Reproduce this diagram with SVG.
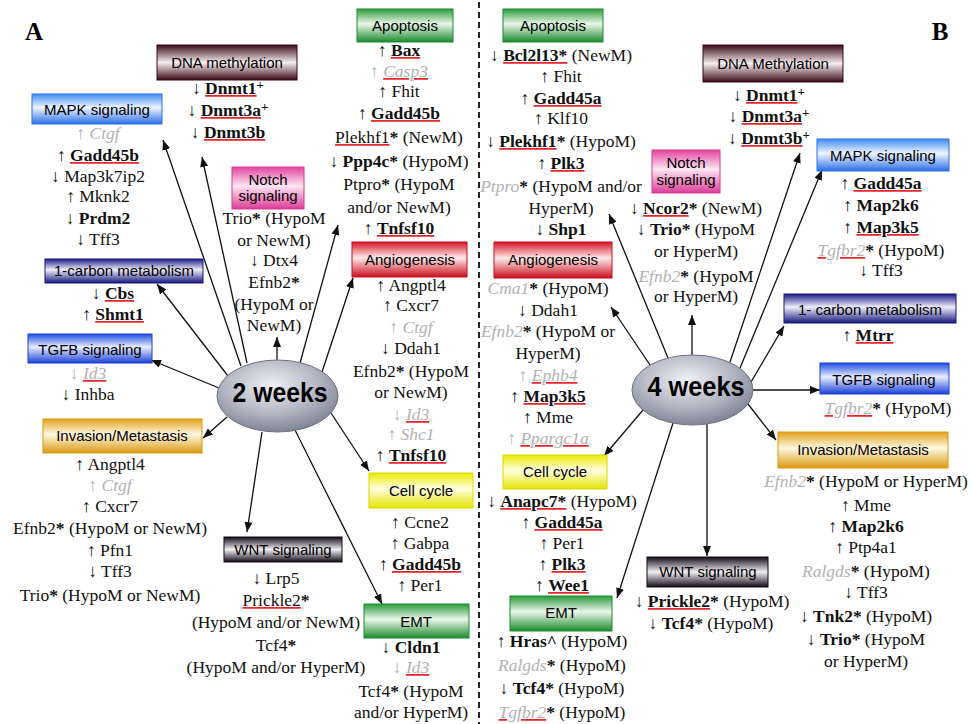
<svg xmlns="http://www.w3.org/2000/svg" width="971" height="724" viewBox="0 0 971 724">
<defs>
<style>
.lbl{font-family:"Liberation Sans",Arial,sans-serif;font-size:15px;text-anchor:middle;fill:#000}
.t{font-family:"Liberation Serif","DejaVu Serif","Times New Roman",serif;font-size:17.5px;text-anchor:middle;fill:#111}
.b{font-weight:bold}
.g{fill:#b2b2b2}
.i{font-style:italic}
.k{fill:#111}
.u{text-decoration:underline;text-decoration-color:#e3262b;fill:#e3262b;text-decoration-thickness:2px;text-underline-offset:3px}
.sp{font-size:13px;font-weight:bold}
.wk{font-family:"Liberation Sans",Arial,sans-serif;font-weight:bold;font-size:28px;text-anchor:middle;fill:#000}
.pl{font-family:"Liberation Serif","Times New Roman",serif;font-weight:bold;font-size:25px;text-anchor:middle;fill:#000}
.conn line{stroke:#111;stroke-width:1.3;marker-end:url(#ah)}
.bx{stroke-width:1}
</style>
<marker id="ah" viewBox="0 0 10 8" refX="10" refY="4" markerWidth="10" markerHeight="8" markerUnits="userSpaceOnUse" orient="auto"><path d="M0,0 L10,4 L0,8 z" fill="#111"/></marker>
<linearGradient id="gMar" x1="0" y1="0" x2="0" y2="1"><stop offset="0" stop-color="#3a0816"/><stop offset="0.5" stop-color="#f6eef0"/><stop offset="1" stop-color="#3a0816"/></linearGradient>
<linearGradient id="gBlueL" x1="0" y1="0" x2="0" y2="1"><stop offset="0" stop-color="#3f8cf2"/><stop offset="0.45" stop-color="#eef5ff"/><stop offset="1" stop-color="#2a6fe6"/></linearGradient>
<linearGradient id="gBlue" x1="0" y1="0" x2="0" y2="1"><stop offset="0" stop-color="#1d4ee0"/><stop offset="0.45" stop-color="#e8eeff"/><stop offset="1" stop-color="#1a3fd6"/></linearGradient>
<linearGradient id="gNavy" x1="0" y1="0" x2="0" y2="1"><stop offset="0" stop-color="#1c1c86"/><stop offset="0.45" stop-color="#eeeefa"/><stop offset="1" stop-color="#16167c"/></linearGradient>
<linearGradient id="gGreen" x1="0" y1="0" x2="0" y2="1"><stop offset="0" stop-color="#2a9a3c"/><stop offset="0.45" stop-color="#eaf7ea"/><stop offset="1" stop-color="#1c8a2e"/></linearGradient>
<linearGradient id="gPink" x1="0" y1="0" x2="0" y2="1"><stop offset="0" stop-color="#e2449e"/><stop offset="0.45" stop-color="#fde6f2"/><stop offset="1" stop-color="#dc3c98"/></linearGradient>
<linearGradient id="gRed" x1="0" y1="0" x2="0" y2="1"><stop offset="0" stop-color="#d21626"/><stop offset="0.45" stop-color="#ffeaea"/><stop offset="1" stop-color="#c80f1e"/></linearGradient>
<linearGradient id="gYel" x1="0" y1="0" x2="0" y2="1"><stop offset="0" stop-color="#eaea00"/><stop offset="0.45" stop-color="#ffffe2"/><stop offset="1" stop-color="#e4e400"/></linearGradient>
<linearGradient id="gGold" x1="0" y1="0" x2="0" y2="1"><stop offset="0" stop-color="#e2a21c"/><stop offset="0.45" stop-color="#fff8e2"/><stop offset="1" stop-color="#d89a10"/></linearGradient>
<linearGradient id="gBlk" x1="0" y1="0" x2="0" y2="1"><stop offset="0" stop-color="#120a16"/><stop offset="0.5" stop-color="#f2f0f4"/><stop offset="1" stop-color="#120a16"/></linearGradient>
<radialGradient id="gEll" cx="0.45" cy="0.35" r="0.7"><stop offset="0" stop-color="#eff1f6"/><stop offset="0.55" stop-color="#b3b7c4"/><stop offset="1" stop-color="#767b8c"/></radialGradient>
</defs>
<rect width="971" height="724" fill="#fff"/>
<line x1="479" y1="2" x2="479" y2="724" stroke="#222" stroke-width="2" stroke-dasharray="6 4"/>
<text class="pl" x="34" y="40">A</text>
<text class="pl" x="940" y="40">B</text>

<g class="conn" id="connectors">
<line x1="241" y1="366" x2="163" y2="140"/>
<line x1="247" y1="363" x2="202" y2="157"/>
<line x1="277" y1="360" x2="277" y2="337"/>
<line x1="300" y1="363" x2="338" y2="225"/>
<line x1="322" y1="372" x2="353" y2="278"/>
<line x1="228" y1="376" x2="157" y2="284"/>
<line x1="219" y1="388" x2="151" y2="360"/>
<line x1="227" y1="417" x2="203" y2="438"/>
<line x1="331" y1="413" x2="369" y2="471"/>
<line x1="262" y1="432" x2="247" y2="532"/>
<line x1="295" y1="430" x2="382" y2="604"/>
<line x1="668" y1="358" x2="609" y2="214"/>
<line x1="650" y1="365" x2="611" y2="307"/>
<line x1="692" y1="355" x2="692" y2="315"/>
<line x1="730" y1="362" x2="800" y2="153"/>
<line x1="740" y1="368" x2="822" y2="170"/>
<line x1="751" y1="382" x2="784" y2="326"/>
<line x1="753" y1="390" x2="820" y2="390"/>
<line x1="748" y1="404" x2="776" y2="440"/>
<line x1="643" y1="410" x2="604" y2="456"/>
<line x1="673" y1="423" x2="617" y2="598"/>
<line x1="707" y1="424" x2="707" y2="556"/>
</g>

<g id="hub-2weeks">
<ellipse cx="277.5" cy="396" rx="60.5" ry="36" fill="url(#gEll)" stroke="#6c7080" stroke-width="1"/>
<text class="wk" x="280" y="402" textLength="95" lengthAdjust="spacingAndGlyphs">2 weeks</text>
</g>
<g id="hub-4weeks">
<ellipse cx="692.5" cy="390" rx="60.5" ry="35" fill="url(#gEll)" stroke="#6c7080" stroke-width="1"/>
<text class="wk" x="696" y="396" textLength="97" lengthAdjust="spacingAndGlyphs">4 weeks</text>
</g>

<!-- LEFT PANEL -->
<g id="A-dna-methylation">
<rect class="bx" x="157" y="45" width="140" height="35" fill="url(#gMar)" stroke="#3a0816"/>
<text class="lbl" x="227" y="68">DNA methylation</text>
<text class="t" x="228" y="94">↓ <tspan class="u"><tspan class="k b">Dnmt1</tspan></tspan><tspan class="sp" dy="-5">+</tspan></text>
<text class="t" x="228" y="116">↓ <tspan class="u"><tspan class="k b">Dnmt3a</tspan></tspan><tspan class="sp" dy="-5">+</tspan></text>
<text class="t" x="228" y="138">↓ <tspan class="u"><tspan class="k b">Dnmt3b</tspan></tspan></text>
</g>
<g id="A-mapk">
<rect class="bx" x="32" y="94" width="130" height="30" fill="url(#gBlueL)" stroke="#2f72e6"/>
<text class="lbl" x="97" y="115">MAPK signaling</text>
<text class="t" x="98" y="139"><tspan class="g">↑ <tspan class="i">Ctgf</tspan></tspan></text>
<text class="t" x="98" y="161">↑ <tspan class="u"><tspan class="k b">Gadd45b</tspan></tspan></text>
<text class="t" x="98" y="182">↓ Map3k7ip2</text>
<text class="t" x="98" y="202">↑ Mknk2</text>
<text class="t" x="98" y="224">↓ <tspan class="b">Prdm2</tspan></text>
<text class="t" x="98" y="245">↓ Tff3</text>
</g>
<g id="A-apoptosis">
<rect class="bx" x="357" y="9" width="96" height="33" fill="url(#gGreen)" stroke="#1c8a2e"/>
<text class="lbl" x="405" y="31">Apoptosis</text>
<text class="t" x="399" y="56">↑ <tspan class="u"><tspan class="k b">Bax</tspan></tspan></text>
<text class="t" x="399" y="77"><tspan class="g">↑ </tspan><tspan class="u"><tspan class="g i">Casp3</tspan></tspan></text>
<text class="t" x="399" y="97">↑ Fhit</text>
<text class="t" x="399" y="119">↑ <tspan class="u"><tspan class="k b">Gadd45b</tspan></tspan></text>
<text class="t" x="399" y="143"><tspan class="u"><tspan class="k">Plekhf1</tspan></tspan><tspan class="b">*</tspan> (NewM)</text>
<text class="t" x="399" y="167">↓ <tspan class="b">Ppp4c*</tspan> (HypoM)</text>
<text class="t" x="399" y="190">Ptpro<tspan class="b">*</tspan> (HypoM</text>
<text class="t" x="399" y="213">and/or NewM)</text>
<text class="t" x="399" y="234">↑ <tspan class="u"><tspan class="k b">Tnfsf10</tspan></tspan></text>
</g>
<g id="A-notch">
<rect class="bx" x="232" y="167" width="72" height="42" fill="url(#gPink)" stroke="#d83c96"/>
<text class="lbl" x="268" y="185">Notch</text>
<text class="lbl" x="268" y="201">signaling</text>
<text class="t" x="274" y="224">Trio<tspan class="b">*</tspan> (HypoM</text>
<text class="t" x="274" y="246">or NewM)</text>
<text class="t" x="274" y="266">↓ Dtx4</text>
<text class="t" x="274" y="288">Efnb2<tspan class="b">*</tspan></text>
<text class="t" x="274" y="310">(HypoM or</text>
<text class="t" x="274" y="331">NewM)</text>
</g>
<g id="A-one-carbon">
<rect class="bx" x="45" y="259" width="158" height="24" fill="url(#gNavy)" stroke="#16167c"/>
<text class="lbl" x="124" y="276">1-carbon metabolism</text>
<text class="t" x="113" y="299">↓ <tspan class="u"><tspan class="k b">Cbs</tspan></tspan></text>
<text class="t" x="113" y="320">↑ <tspan class="u"><tspan class="k b">Shmt1</tspan></tspan></text>
</g>
<g id="A-tgfb">
<rect class="bx" x="28" y="334" width="124" height="29" fill="url(#gBlue)" stroke="#1a3fd6"/>
<text class="lbl" x="90" y="355">TGFB signaling</text>
<text class="t" x="88" y="379"><tspan class="g">↓ </tspan><tspan class="u"><tspan class="g i">Id3</tspan></tspan></text>
<text class="t" x="88" y="400">↓ Inhba</text>
</g>
<g id="A-invasion">
<rect class="bx" x="43" y="419" width="159" height="34" fill="url(#gGold)" stroke="#d89a10"/>
<text class="lbl" x="122" y="441">Invasion/Metastasis</text>
<text class="t" x="110" y="470">↑ Angptl4</text>
<text class="t" x="110" y="491"><tspan class="g">↑ <tspan class="i">Ctgf</tspan></tspan></text>
<text class="t" x="110" y="512">↑ Cxcr7</text>
<text class="t" x="110" y="534">Efnb2<tspan class="b">*</tspan> (HypoM or NewM)</text>
<text class="t" x="110" y="556">↑ Pfn1</text>
<text class="t" x="110" y="577">↓ Tff3</text>
<text class="t" x="110" y="601">Trio<tspan class="b">*</tspan> (HypoM or NewM)</text>
</g>
<g id="A-angiogenesis">
<rect class="bx" x="352" y="242" width="115" height="35" fill="url(#gRed)" stroke="#c80f1e"/>
<text class="lbl" x="410" y="265">Angiogenesis</text>
<text class="t" x="411" y="291">↑ Angptl4</text>
<text class="t" x="411" y="311">↑ Cxcr7</text>
<text class="t" x="411" y="333"><tspan class="g">↑ <tspan class="i">Ctgf</tspan></tspan></text>
<text class="t" x="411" y="354">↓ Ddah1</text>
<text class="t" x="411" y="377">Efnb2<tspan class="b">*</tspan> (HypoM</text>
<text class="t" x="411" y="398">or NewM)</text>
<text class="t" x="411" y="420"><tspan class="g">↓ </tspan><tspan class="u"><tspan class="g i">Id3</tspan></tspan></text>
<text class="t" x="411" y="440"><tspan class="g">↑ <tspan class="i">Shc1</tspan></tspan></text>
<text class="t" x="411" y="461">↑ <tspan class="u"><tspan class="k b">Tnfsf10</tspan></tspan></text>
</g>
<g id="A-cell-cycle">
<rect class="bx" x="369" y="473" width="104" height="35" fill="url(#gYel)" stroke="#d8d800"/>
<text class="lbl" x="421" y="496">Cell cycle</text>
<text class="t" x="420" y="528">↑ Ccne2</text>
<text class="t" x="420" y="549">↑ Gabpa</text>
<text class="t" x="420" y="570">↑ <tspan class="u"><tspan class="k b">Gadd45b</tspan></tspan></text>
<text class="t" x="420" y="591">↑ Per1</text>
</g>
<g id="A-wnt">
<rect class="bx" x="224" y="537" width="118" height="25" fill="url(#gBlk)" stroke="#120a16"/>
<text class="lbl" x="283" y="555">WNT signaling</text>
<text class="t" x="276" y="584">↓ Lrp5</text>
<text class="t" x="276" y="606"><tspan class="u"><tspan class="k">Prickle2</tspan></tspan><tspan class="b">*</tspan></text>
<text class="t" x="276" y="628">(HypoM and/or NewM)</text>
<text class="t" x="276" y="651">Tcf4<tspan class="b">*</tspan></text>
<text class="t" x="276" y="673">(HypoM and/or HyperM)</text>
</g>
<g id="A-emt">
<rect class="bx" x="364" y="604" width="105" height="34" fill="url(#gGreen)" stroke="#1c8a2e"/>
<text class="lbl" x="416" y="627">EMT</text>
<text class="t" x="411" y="653">↓ <tspan class="b">Cldn1</tspan></text>
<text class="t" x="411" y="673"><tspan class="g">↓ </tspan><tspan class="u"><tspan class="g i">Id3</tspan></tspan></text>
<text class="t" x="411" y="697">Tcf4<tspan class="b">*</tspan> (HypoM</text>
<text class="t" x="411" y="718">and/or HyperM)</text>
</g>

<!-- RIGHT PANEL -->
<g id="B-apoptosis">
<rect class="bx" x="503" y="9" width="100" height="33" fill="url(#gGreen)" stroke="#1c8a2e"/>
<text class="lbl" x="553" y="31">Apoptosis</text>
<text class="t" x="561" y="61">↓ <tspan class="u"><tspan class="k b">Bcl2l13*</tspan></tspan> (NewM)</text>
<text class="t" x="561" y="82">↑ Fhit</text>
<text class="t" x="561" y="104">↑ <tspan class="u"><tspan class="k b">Gadd45a</tspan></tspan></text>
<text class="t" x="561" y="124">↑ Klf10</text>
<text class="t" x="561" y="147">↓ <tspan class="u"><tspan class="k b">Plekhf1</tspan></tspan><tspan class="b">*</tspan> (HypoM)</text>
<text class="t" x="561" y="169">↑ <tspan class="u"><tspan class="k b">Plk3</tspan></tspan></text>
<text class="t" x="561" y="192"><tspan class="g i">Ptpro</tspan><tspan class="b">*</tspan> (HypoM and/or</text>
<text class="t" x="561" y="214">HyperM)</text>
<text class="t" x="561" y="235">↓ <tspan class="b">Shp1</tspan></text>
</g>
<g id="B-notch">
<rect class="bx" x="652" y="150" width="68" height="43" fill="url(#gPink)" stroke="#d83c96"/>
<text class="lbl" x="686" y="168">Notch</text>
<text class="lbl" x="686" y="185">signaling</text>
<text class="t" x="696" y="214">↓ <tspan class="u"><tspan class="k b">Ncor2</tspan></tspan><tspan class="b">*</tspan> (NewM)</text>
<text class="t" x="696" y="235">↓ <tspan class="b">Trio*</tspan> (HypoM</text>
<text class="t" x="696" y="257">or HyperM)</text>
<text class="t" x="696" y="282"><tspan class="g i">Efnb2</tspan><tspan class="b">*</tspan> (HypoM</text>
<text class="t" x="696" y="302">or HyperM)</text>
</g>
<g id="B-dna-methylation">
<rect class="bx" x="703" y="45" width="140" height="37" fill="url(#gMar)" stroke="#3a0816"/>
<text class="lbl" x="773" y="69">DNA Methylation</text>
<text class="t" x="769" y="101">↓ <tspan class="u"><tspan class="k b">Dnmt1</tspan></tspan><tspan class="sp" dy="-5">+</tspan></text>
<text class="t" x="769" y="122">↓ <tspan class="u"><tspan class="k b">Dnmt3a</tspan></tspan><tspan class="sp" dy="-5">+</tspan></text>
<text class="t" x="769" y="144">↓ <tspan class="u"><tspan class="k b">Dnmt3b</tspan></tspan><tspan class="sp" dy="-5">+</tspan></text>
</g>
<g id="B-mapk">
<rect class="bx" x="817" y="139" width="132" height="32" fill="url(#gBlueL)" stroke="#2f72e6"/>
<text class="lbl" x="883" y="161">MAPK signaling</text>
<text class="t" x="881" y="189">↑ <tspan class="u"><tspan class="k b">Gadd45a</tspan></tspan></text>
<text class="t" x="881" y="211">↑ <tspan class="b">Map2k6</tspan></text>
<text class="t" x="881" y="233">↑ <tspan class="u"><tspan class="k b">Map3k5</tspan></tspan></text>
<text class="t" x="881" y="256"><tspan class="u"><tspan class="g i">Tgfbr2</tspan></tspan><tspan class="b">*</tspan> (HypoM)</text>
<text class="t" x="881" y="276">↓ Tff3</text>
</g>
<g id="B-one-carbon">
<rect class="bx" x="784" y="294" width="172" height="29" fill="url(#gNavy)" stroke="#16167c"/>
<text class="lbl" x="870" y="315">1- carbon metabolism</text>
<text class="t" x="868" y="341">↑ <tspan class="u"><tspan class="k b">Mtrr</tspan></tspan></text>
</g>
<g id="B-tgfb">
<rect class="bx" x="820" y="363" width="129" height="31" fill="url(#gBlue)" stroke="#1a3fd6"/>
<text class="lbl" x="884" y="385">TGFB signaling</text>
<text class="t" x="888" y="414"><tspan class="u"><tspan class="g i">Tgfbr2</tspan></tspan><tspan class="b">*</tspan> (HypoM)</text>
</g>
<g id="B-invasion">
<rect class="bx" x="778" y="432" width="170" height="36" fill="url(#gGold)" stroke="#d89a10"/>
<text class="lbl" x="863" y="455">Invasion/Metastasis</text>
<text class="t" x="866" y="487"><tspan class="g i">Efnb2</tspan><tspan class="b">*</tspan> (HypoM or HyperM)</text>
<text class="t" x="866" y="511">↑ Mme</text>
<text class="t" x="866" y="532">↑ <tspan class="b">Map2k6</tspan></text>
<text class="t" x="866" y="553">↑ Ptp4a1</text>
<text class="t" x="866" y="577"><tspan class="g i">Ralgds</tspan><tspan class="b">*</tspan> (HypoM)</text>
<text class="t" x="866" y="598">↓ Tff3</text>
<text class="t" x="866" y="622">↓ <tspan class="b">Tnk2*</tspan> (HypoM)</text>
<text class="t" x="866" y="645">↓ <tspan class="b">Trio*</tspan> (HypoM</text>
<text class="t" x="866" y="667">or HyperM)</text>
</g>
<g id="B-angiogenesis">
<rect class="bx" x="494" y="242" width="118" height="36" fill="url(#gRed)" stroke="#c80f1e"/>
<text class="lbl" x="553" y="265">Angiogenesis</text>
<text class="t" x="548" y="294"><tspan class="g i">Cma1</tspan><tspan class="b">*</tspan> (HypoM)</text>
<text class="t" x="548" y="316">↓ Ddah1</text>
<text class="t" x="548" y="337"><tspan class="g i">Efnb2</tspan><tspan class="b">*</tspan> (HypoM or</text>
<text class="t" x="548" y="359">HyperM)</text>
<text class="t" x="548" y="381"><tspan class="g">↑ </tspan><tspan class="u"><tspan class="g i">Ephb4</tspan></tspan></text>
<text class="t" x="548" y="402">↑ <tspan class="u"><tspan class="k b">Map3k5</tspan></tspan></text>
<text class="t" x="548" y="423">↑ Mme</text>
<text class="t" x="548" y="444"><tspan class="g">↑ </tspan><tspan class="u"><tspan class="g i">Ppargc1a</tspan></tspan></text>
</g>
<g id="B-cell-cycle">
<rect class="bx" x="503" y="455" width="104" height="34" fill="url(#gYel)" stroke="#d8d800"/>
<text class="lbl" x="555" y="477">Cell cycle</text>
<text class="t" x="562" y="507">↓ <tspan class="u"><tspan class="k b">Anapc7*</tspan></tspan> (HypoM)</text>
<text class="t" x="562" y="528">↑ <tspan class="u"><tspan class="k b">Gadd45a</tspan></tspan></text>
<text class="t" x="562" y="549">↑ Per1</text>
<text class="t" x="562" y="570">↑ <tspan class="u"><tspan class="k b">Plk3</tspan></tspan></text>
<text class="t" x="562" y="591">↑ <tspan class="u"><tspan class="k b">Wee1</tspan></tspan></text>
</g>
<g id="B-emt">
<rect class="bx" x="510" y="596" width="102" height="35" fill="url(#gGreen)" stroke="#1c8a2e"/>
<text class="lbl" x="561" y="618">EMT</text>
<text class="t" x="562" y="647">↑ <tspan class="b">Hras^</tspan> (HypoM)</text>
<text class="t" x="562" y="671"><tspan class="g i">Ralgds</tspan><tspan class="b">*</tspan> (HypoM)</text>
<text class="t" x="562" y="694">↓ <tspan class="b">Tcf4*</tspan> (HypoM)</text>
<text class="t" x="562" y="718"><tspan class="u"><tspan class="g i">Tgfbr2</tspan></tspan><tspan class="b">*</tspan> (HypoM)</text>
</g>
<g id="B-wnt">
<rect class="bx" x="647" y="557" width="121" height="30" fill="url(#gBlk)" stroke="#120a16"/>
<text class="lbl" x="708" y="577">WNT signaling</text>
<text class="t" x="712" y="607">↓ <tspan class="u"><tspan class="k b">Prickle2</tspan></tspan><tspan class="b">*</tspan> (HypoM)</text>
<text class="t" x="711" y="629">↓ <tspan class="b">Tcf4*</tspan> (HypoM)</text>
</g>
</svg>
